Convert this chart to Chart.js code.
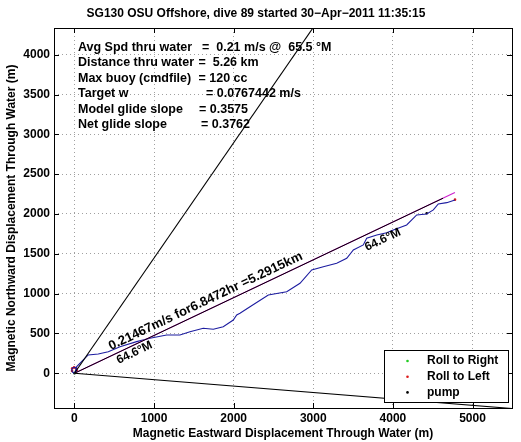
<!DOCTYPE html>
<html>
<head>
<meta charset="utf-8">
<script src="https://cdn.jsdelivr.net/npm/chart.js@4/dist/chart.umd.min.js"></script>
<style>
  html, body { margin: 0; padding: 0; background: #fff; }
  #wrap { width: 521px; height: 442px; }
</style>
</head>
<body>
<div id="wrap"><canvas id="c" width="521" height="442"></canvas></div>
<script>
// ---- data ----
const titleText = "SG130 OSU Offshore, dive 89 started 30\u2212Apr\u22122011 11:35:15";
const xTicks = [0, 1000, 2000, 3000, 4000, 5000];
const yTicks = [0, 500, 1000, 1500, 2000, 2500, 3000, 3500, 4000];
const xRange = [-257, 5496];
const yRange = [-436, 4335];

// glider track (east, north) in metres
const trackX = [0, -25, -35, -20, 10, 30, 25, 5, 28, 111, 173, 299, 425, 572, 781, 948, 1158, 1325, 1451, 1618, 1744, 1869, 1995, 2038, 2079, 2205, 2435, 2666, 2833, 2980, 3126, 3294, 3420, 3503, 3628, 3671, 3797, 3922, 4005, 4173, 4299, 4425, 4508, 4570, 4676, 4780];
const trackY = [0, 15, 45, 70, 75, 55, 25, 10, 83, 167, 230, 242, 271, 334, 397, 439, 481, 481, 522, 565, 552, 585, 669, 732, 753, 836, 983, 1024, 1130, 1297, 1338, 1381, 1444, 1548, 1611, 1695, 1736, 1765, 1799, 1862, 1988, 2000, 2051, 2126, 2142, 2176];

// heading wedge (±30° about 64.6°M) and course lines
const wedgeLeftX = [0, 3040];
const wedgeLeftY = [0, 4400];
const wedgeRightX = [0, 5600];
const wedgeRightY = [0, -451];
const headingLineX = [0, 4630];
const headingLineY = [0, 2198];
const speedLineX = [0, 4779];
const speedLineY = [0, 2270];

// markers
const rollRightX = [5];
const rollRightY = [5];
const rollLeftX = [-30, -28, -5, 22, 28, 4780];
const rollLeftY = [30, 62, 74, 62, 35, 2180];
const pumpX = [0, 4425];
const pumpY = [0, 2009];

const headingDeg = 64.6;
const speedLabel = "0.21467m/s for6.8472hr =5.2915km";
const infoLabels = ["Avg Spd thru water", "Distance thru water", "Max buoy (cmdfile)", "Target w", "Model glide slope", "Net glide slope"];
const infoValues = ["=  0.21 m/s @  65.5 \u00B0M", "=  5.26 km", "= 120 cc", "= 0.0767442 m/s", "= 0.3575", "= 0.3762"];

const pts = (xs, ys) => xs.map((x, i) => ({x: x, y: ys[i]}));
const FONT = "'Liberation Sans', Arial, Helvetica, sans-serif";

const lineDs = (label, xs, ys, color, width) => ({
  label, data: pts(xs, ys), showLine: true, borderColor: color, backgroundColor: color,
  borderWidth: width, pointRadius: 0, pointHoverRadius: 0, fill: false, tension: 0
});
const dotDs = (label, xs, ys, color) => ({
  label, data: pts(xs, ys), showLine: false, borderColor: color, backgroundColor: color,
  pointRadius: 1.3, pointBorderWidth: 0, legendEntry: true
});

const overlay = {
  id: 'overlay',
  afterDatasetsDraw(chart) {
    const ctx = chart.ctx;
    const xs = chart.scales.x, ys = chart.scales.y;
    const h = headingDeg * Math.PI / 180;
    const p0x = xs.getPixelForValue(0), p0y = ys.getPixelForValue(0);
    const p1x = xs.getPixelForValue(1000 * Math.sin(h)), p1y = ys.getPixelForValue(1000 * Math.cos(h));
    const ang = Math.atan2(p1y - p0y, p1x - p0x);
    const rot = (txt, dx, dy, size) => {
      ctx.save();
      ctx.translate(xs.getPixelForValue(dx), ys.getPixelForValue(dy));
      ctx.rotate(ang);
      ctx.font = "bold " + size + "px " + FONT;
      ctx.fillStyle = '#000';
      ctx.textAlign = 'left';
      ctx.textBaseline = 'alphabetic';
      ctx.fillText(txt, 0, 0);
      ctx.restore();
    };
    rot(speedLabel, 460, 290, 13);
    rot(headingDeg.toFixed(1) + "\u00B0M", 555, 117, 12);
    rot(headingDeg.toFixed(1) + "\u00B0M", 3675, 1535, 12);

    // info text
    const ca = chart.chartArea;
    ctx.save();
    ctx.font = "bold 12.5px " + FONT;
    ctx.fillStyle = '#000';
    ctx.textBaseline = 'middle';
    ctx.textAlign = 'left';
    const eqX = [202, 198.5, 198.5, 206, 199, 201];
    infoLabels.forEach((t, i) => {
      const y = ca.top + 19.5 + i * 15.4;
      ctx.fillText(t, ca.left + 24, y);
      ctx.fillText(infoValues[i], eqX[i], y);
    });
    ctx.restore();
  },
  afterDraw(chart) {
    const ctx = chart.ctx;
    const ca = chart.chartArea;
    const xs = chart.scales.x, ys = chart.scales.y;
    ctx.save();
    ctx.strokeStyle = '#000';
    ctx.lineWidth = 1;
    // inside tick marks
    ctx.beginPath();
    xs.ticks.forEach(t => {
      const px = Math.round(xs.getPixelForValue(t.value)) + 0.5;
      ctx.moveTo(px, ca.bottom); ctx.lineTo(px, ca.bottom - 5);
      ctx.moveTo(px, ca.top); ctx.lineTo(px, ca.top + 5);
    });
    ys.ticks.forEach(t => {
      const py = Math.round(ys.getPixelForValue(t.value)) + 0.5;
      ctx.moveTo(ca.left, py); ctx.lineTo(ca.left + 5, py);
      ctx.moveTo(ca.right, py); ctx.lineTo(ca.right - 5, py);
    });
    ctx.stroke();
    // box
    ctx.strokeRect(Math.round(ca.left) + 0.5, Math.round(ca.top) + 0.5,
                   Math.round(ca.right - ca.left), Math.round(ca.bottom - ca.top));

    // legend
    const entries = chart.data.datasets.filter(d => d.legendEntry);
    const bw = 124, bh = 52;
    const bx = Math.round(ca.right - 4 - bw) + 0.5, by = Math.round(ca.bottom - 6 - bh) + 0.5;
    ctx.fillStyle = '#fff';
    ctx.fillRect(bx, by, bw, bh);
    ctx.strokeRect(bx, by, bw, bh);
    ctx.font = "bold 12px " + FONT;
    ctx.textBaseline = 'middle';
    ctx.textAlign = 'left';
    entries.forEach((d, i) => {
      const y = by + 10.5 + i * 15.7;
      ctx.fillStyle = d.backgroundColor;
      ctx.beginPath(); ctx.arc(bx + 23, y, 1.3, 0, Math.PI * 2); ctx.fill();
      ctx.fillStyle = '#000';
      ctx.fillText(d.label, bx + 42.5, y);
    });
    ctx.restore();
  }
};

const tickFont = {family: FONT, size: 12, weight: 'bold'};

new Chart(document.getElementById('c'), {
  type: 'scatter',
  data: {
    datasets: [
      lineDs('wedgeL', wedgeLeftX, wedgeLeftY, '#000', 1.1),
      lineDs('wedgeR', wedgeRightX, wedgeRightY, '#000', 1.1),
      lineDs('heading', headingLineX, headingLineY, '#000', 1.0),
      lineDs('speed', speedLineX, speedLineY, '#cc22cc', 1.2),
      lineDs('track', trackX, trackY, '#1c1ca0', 1.1),
      dotDs('Roll to Right', rollRightX, rollRightY, '#22cc22'),
      dotDs('Roll to Left', rollLeftX, rollLeftY, '#dd1a1a'),
      dotDs('pump', pumpX, pumpY, '#000')
    ]
  },
  options: {
    responsive: false,
    animation: false,
    events: [],
    layout: {padding: {left: 0, right: 9, top: 0, bottom: 0}},
    plugins: {
      legend: {display: false},
      tooltip: {enabled: false},
      title: {
        display: true, text: titleText, color: '#000',
        font: {family: FONT, size: 12, weight: 'bold'},
        padding: {top: 6, bottom: 7.6}
      }
    },
    scales: {
      x: {
        type: 'linear', min: xRange[0], max: xRange[1],
        afterBuildTicks: s => { s.ticks = xTicks.map(v => ({value: v})); },
        afterFit: s => { s.height = 34; },
        ticks: {color: '#000', font: tickFont, padding: 3, maxRotation: 0, autoSkip: false,
                callback: v => String(v)},
        grid: {color: '#a0a0a0', lineWidth: 1, drawTicks: false},
        border: {display: false, dash: [1, 3]},
        title: {display: true, text: 'Magnetic Eastward Displacement Through Water (m)', color: '#000',
                font: {family: FONT, size: 12, weight: 'bold'}, padding: {top: 0, bottom: 1}}
      },
      y: {
        type: 'linear', min: yRange[0], max: yRange[1],
        afterBuildTicks: s => { s.ticks = yTicks.map(v => ({value: v})); },
        afterFit: s => { s.width = 54; },
        ticks: {color: '#000', font: tickFont, padding: 4, autoSkip: false,
                callback: v => String(v)},
        grid: {color: '#a0a0a0', lineWidth: 1, drawTicks: false},
        border: {display: false, dash: [1, 3]},
        title: {display: true, text: 'Magnetic Northward Displacement Through Water (m)', color: '#000',
                font: {family: FONT, size: 12, weight: 'bold'}, padding: {top: 4.5, bottom: 0}}
      }
    }
  },
  plugins: [overlay]
});
</script>
</body>
</html>
